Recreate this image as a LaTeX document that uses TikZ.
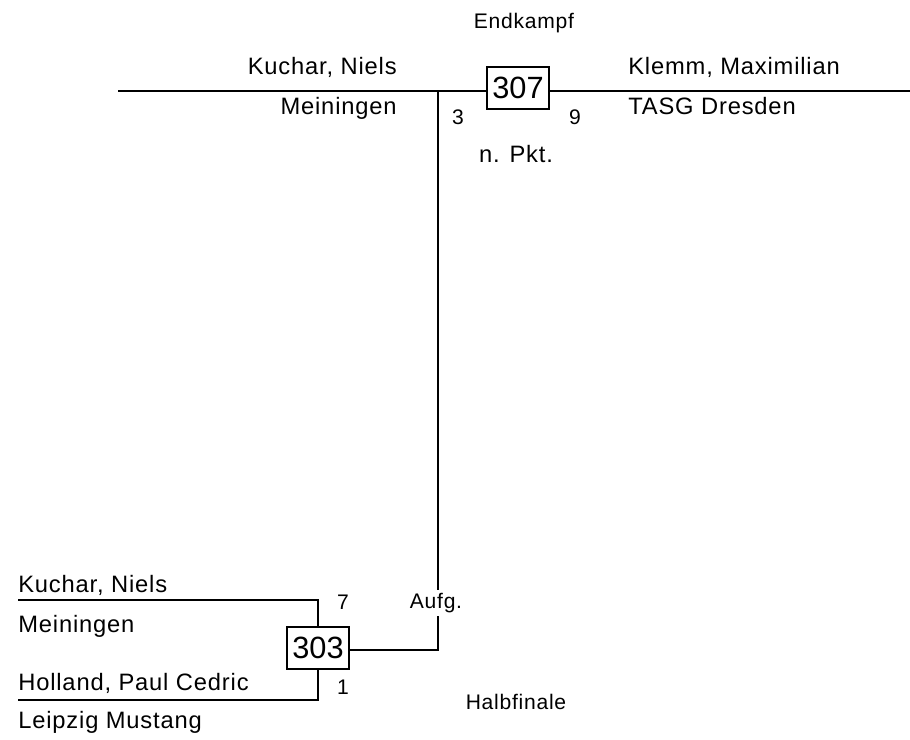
\documentclass[tikz,border=0pt]{standalone}
\usepackage{fontspec}
\setmainfont{Liberation Sans}[LetterSpace=3.5]
\newfontfamily\kampfschrift{Liberation Sans}
\usepackage{tikz}
\usetikzlibrary{positioning,calc}
\tikzstyle{kampf} = [rectangle, draw=black, line width=0.8pt, fill=white, inner sep=1.5pt, minimum width=62*0.02cm, minimum height=42*0.02cm, font=\kampfschrift\fontsize{17.5}{18}\selectfont]
\tikzstyle{spieler} = [inner sep=0pt, font=\fontsize{13.5}{14}\selectfont]
\tikzstyle{klein} = [inner sep=0pt, font=\fontsize{12}{13}\selectfont]
\tikzstyle{linie} = [line width=1.7pt]
\tikzstyle{senkrecht} = [line width=1.3pt]

\begin{document}
\begin{tikzpicture}[x=0.02cm, y=-0.02cm]
							\useasboundingbox (0,0) rectangle (910,740);
							\coordinate (l1) at (118,91);
							\coordinate (r1) at (910,91);
							\coordinate (v1) at (438,91);
							\coordinate (v2) at (438,650);
							\coordinate (o1) at (18,600);
							\coordinate (u1) at (18,700);
							\draw[linie] (l1) -- (r1);
							\node (k307) at (518,88) [kampf] {307};
							\node (k303) at (318,648) [kampf] {303};
							\draw[senkrecht] (v1) -- (v2) -- (v2 -| k303.east);
							\draw[linie] (o1) -| (k303.north);
							\draw[linie] (u1) -| (k303.south);
							\node (aufg) at (436,603) [klein, fill=white, inner sep=2pt] {Aufg.};
							\node (end) at (524,29) [klein, anchor=base] {Endkampf};
							\node (s1) at (397,75) [spieler, anchor=base east] {Kuchar, Niels};
							\node (v1t) at (397,115) [spieler, anchor=base east] {Meiningen};
							\node (s2) at (628,75) [spieler, anchor=base west] {Klemm, Maximilian};
							\node (v2t) at (628,115) [spieler, anchor=base west] {TASG Dresden};
							\node (p1) at (458,125) [klein, anchor=base] {3};
							\node (p2) at (575,125) [klein, anchor=base] {9};
							\node (art) at (516,163) [spieler, anchor=base] {n. Pkt.};
							\node (s3) at (18,592) [spieler, anchor=base west] {Kuchar, Niels};
							\node (v3t) at (18,632) [spieler, anchor=base west] {Meiningen};
							\node (s4) at (18,690) [spieler, anchor=base west] {Holland, Paul Cedric};
							\node (v4t) at (18,728) [spieler, anchor=base west] {Leipzig Mustang};
							\node (p3) at (343,609) [klein, anchor=base] {7};
							\node (p4) at (343,694) [klein, anchor=base] {1};
							\node (halb) at (516,709) [klein, anchor=base] {Halbfinale};
						\end{tikzpicture}
\end{document}
